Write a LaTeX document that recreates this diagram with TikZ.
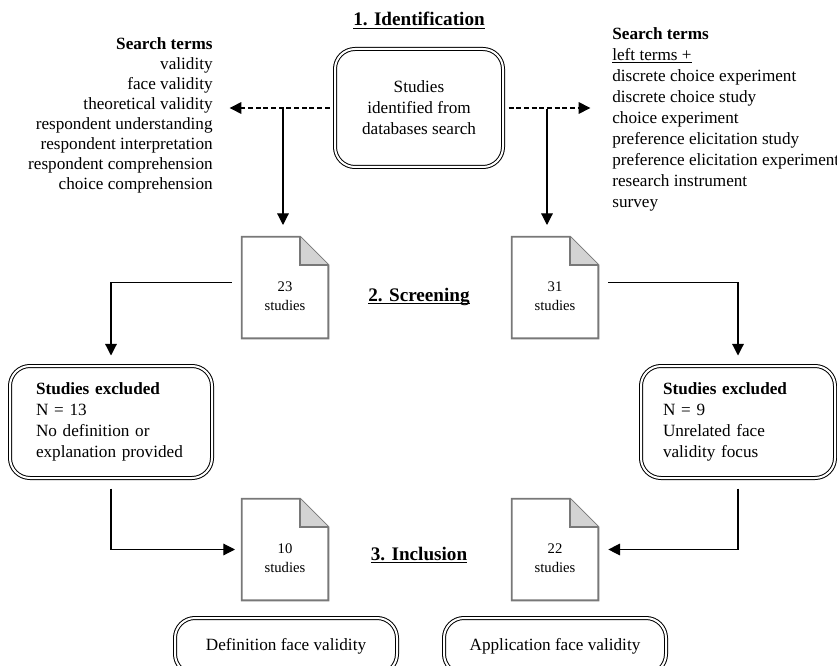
\documentclass[tikz,border=0pt]{standalone}
\usepackage{fontspec}
\setmainfont{Liberation Serif}
\usepackage{tikz}
\usetikzlibrary{arrows.meta,calc}
\definecolor{docgray}{RGB}{120,120,120}
\definecolor{foldgray}{RGB}{211,211,211}

\newcommand{\steptitle}[1]{\underline{\smash{#1}}}
\newcommand{\studydoc}[3]{%
  \node[docbox] (#1) at (#2) {};
  \draw[docline] (#1.north west) -- ([xshift=-17pt]#1.north east)
    -- ([yshift=-17pt]#1.north east) -- (#1.south east) -- (#1.south west) -- cycle;
  \filldraw[docline, fill=foldgray] ([xshift=-17pt]#1.north east)
    -- ([xshift=-17pt,yshift=-17pt]#1.north east) -- ([yshift=-17pt]#1.north east);
  \node[doctext] (#1-txt) at ([yshift=-5.4pt]#1.center) {#3\\studies};
}

\tikzset{
  roundbox/.style={draw, double, double distance=1.2pt, line width=0.6pt,
    rounded corners=12pt, align=center, inner sep=0pt,
    font=\fontsize{10.3}{12.6}\selectfont},
  exclbox/.style={roundbox, align=left, text width=90pt},
  docbox/.style={minimum width=51.6pt, minimum height=60.6pt, inner sep=0pt},
  docline/.style={draw=docgray, line width=1.1pt, line join=miter},
  doctext/.style={align=center, inner sep=0pt, font=\fontsize{8.8}{11.2}\selectfont},
  stage/.style={anchor=base, inner sep=0pt, font=\fontsize{11.5}{14}\selectfont\bfseries},
  flow/.style={line width=0.7pt, -{Triangle[length=7pt,width=7pt]}},
  dflow/.style={flow, dash pattern=on 3pt off 1.6pt}
}

\begin{document}
\begin{tikzpicture}[x=0.6pt, y=-0.6pt]
  \useasboundingbox (0,0) rectangle (837,666);

  % stage titles
  \node[stage] (title1) at (419,26) {\steptitle{1. Identification}};
  \node[stage] (title2) at (419,301) {\steptitle{2. Screening}};
  \node[stage] (title3) at (419,560) {\steptitle{3. Inclusion}};

  % identification
  \node[roundbox, minimum width=100.8pt, minimum height=70.8pt] (ident) at (419,108)
    {Studies\\identified from\\databases search};

  \node[anchor=north east, align=right, inner sep=0pt,
    font=\fontsize{10.3}{12}\selectfont] (termsL) at (213,37)
    {\textbf{Search terms}\\validity\\face validity\\theoretical validity\\
     respondent understanding\\respondent interpretation\\
     respondent comprehension\\choice comprehension};
  \node[anchor=north west, align=left, inner sep=0pt,
    font=\fontsize{10.3}{12.6}\selectfont] (termsR) at (612,27)
    {\textbf{Search terms}\\\steptitle{left terms +}\\discrete choice experiment\\
     discrete choice study\\choice experiment\\preference elicitation study\\
     preference elicitation experiment\\research instrument\\survey};

  \draw[dflow, shorten <=3pt, shorten >=10pt] (ident.west) -- (ident.west -| termsL.east);
  \draw[dflow, shorten <=3pt, shorten >=13pt] (ident.east) -- (ident.east -| termsR.west);

  \coordinate (jL) at (283,109);
  \coordinate (jR) at (547,109);

  % screening
  \studydoc{docA}{285,287.5}{23}
  \studydoc{docB}{555,287.5}{31}

  \draw[flow, shorten >=7pt] (jL) -- (jL |- docA.north);
  \draw[flow, shorten >=7pt] (jR) -- (jR |- docB.north);

  \node[exclbox, minimum width=121.2pt, minimum height=67.2pt] (exclL) at (111,422)
    {\textbf{Studies excluded}\\N = 13\\No definition or\\explanation provided};
  \node[exclbox, minimum width=116.4pt, minimum height=67.2pt] (exclR) at (738,422)
    {\textbf{Studies excluded}\\N = 9\\Unrelated face\\validity focus};

  \draw[flow, shorten <=6pt, shorten >=6pt] ([yshift=3pt]docA.west) -| (exclL.north);
  \draw[flow, shorten <=6pt, shorten >=6pt] ([yshift=3pt]docB.east) -| (exclR.north);

  % inclusion
  \studydoc{docC}{285,549.5}{10}
  \studydoc{docD}{555,549.5}{22}

  \draw[flow, shorten <=6pt, shorten >=4pt] (exclL.south) |- (docC.west);
  \draw[flow, shorten <=6pt, shorten >=6pt] (exclR.south) |- (docD.east);

  \node[roundbox, minimum width=133.2pt, minimum height=33.6pt] (defbox) at (286,646)
    {Definition face validity};
  \node[roundbox, minimum width=133.2pt, minimum height=33.6pt] (appbox) at (555,646)
    {Application face validity};
\end{tikzpicture}
\end{document}
